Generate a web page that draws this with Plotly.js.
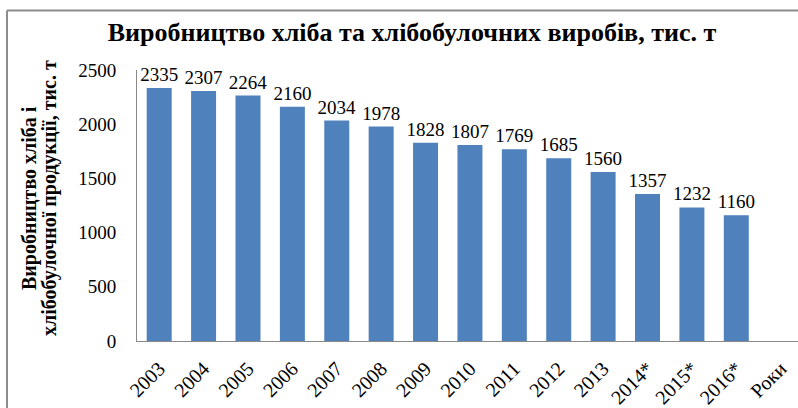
<!DOCTYPE html>
<html>
<head>
<meta charset="utf-8">
<script src="https://cdn.plot.ly/plotly-3.0.1.min.js"></script>
<style>html,body{margin:0;padding:0;background:#fff;}#chart{width:798px;height:408px;}</style>
</head>
<body>
<div id="chart"></div>
<script>
const categories = ["2003","2004","2005","2006","2007","2008","2009","2010","2011","2012","2013","2014*","2015*","2016*","Роки"];
const production = [2335,2307,2264,2160,2034,1978,1828,1807,1769,1685,1560,1357,1232,1160,null];
const yTickValues = [0,500,1000,1500,2000,2500];
const titleText = "Виробництво хліба та хлібобулочних виробів, тис. т";
const yTitleLine1 = "Виробництво хліба і";
const yTitleLine2 = "хлібобулочної продукції, тис. т";

const FONT = "'Liberation Serif','Times New Roman',serif";
const W = 798, H = 408;
const L = 137, R = 0, T = 70, B = 67;
const pw = W - L - R, ph = H - T - B;
const px = x => (x - L) / pw;
const py = y => (H - B - y) / ph;

const trace = {
  type: "bar",
  x: categories,
  y: production,
  text: production.map(v => v === null ? "" : String(v)),
  textposition: "outside",
  constraintext: "none",
  textfont: {family: FONT, size: 19, color: "#000"},
  cliponaxis: false,
  marker: {color: "#4F81BD", line: {width: 0}},
  hoverinfo: "x+y"
};

const layout = {
  width: W, height: H,
  margin: {l: L, r: R, t: T, b: B, pad: 0},
  paper_bgcolor: "#fff", plot_bgcolor: "#fff",
  showlegend: false,
  bargap: 0.437,
  font: {family: FONT, size: 19, color: "#000"},
  title: {
    text: "<b>" + titleText + "</b>",
    font: {family: FONT, size: 26, color: "#000"},
    xref: "container", yref: "container",
    x: 412 / W, xanchor: "center",
    y: 1 - 32 / H, yanchor: "middle"
  },
  xaxis: {
    type: "category",
    range: [-0.5, 14.39],
    tickangle: -45,
    ticks: "",
    ticklabelstandoff: 7,
    showgrid: false,
    zeroline: false,
    showline: true,
    linecolor: "#888",
    linewidth: 1,
    tickfont: {family: FONT, size: 20, color: "#000"},
    fixedrange: true
  },
  yaxis: {
    range: [0, 2500],
    tickvals: yTickValues,
    ticktext: yTickValues.map(String),
    ticks: "",
    ticklabelstandoff: 16,
    showgrid: false,
    zeroline: false,
    showline: true,
    linecolor: "#888",
    linewidth: 1,
    tickfont: {family: FONT, size: 19, color: "#000"},
    fixedrange: true
  },
  annotations: [
    {text: "<b>" + yTitleLine1 + "</b>", xref: "paper", yref: "paper", x: px(29), y: py(198),
     xanchor: "center", yanchor: "middle", textangle: -90, showarrow: false,
     font: {family: FONT, size: 20, color: "#000"}},
    {text: "<b>" + yTitleLine2 + "</b>", xref: "paper", yref: "paper", x: px(49), y: py(198),
     xanchor: "center", yanchor: "middle", textangle: -90, showarrow: false,
     font: {family: FONT, size: 20, color: "#000"}}
  ],
  shapes: [
    {type: "line", xref: "paper", yref: "paper", x0: px(7), y0: py(408), x1: px(7), y1: py(10.5),
     line: {color: "#8c8c8c", width: 2}},
    {type: "line", xref: "paper", yref: "paper", x0: px(7), y0: py(10.5), x1: px(798), y1: py(10.5),
     line: {color: "#8c8c8c", width: 2}}
  ]
};

Plotly.newPlot("chart", [trace], layout, {displayModeBar: false, staticPlot: true});
</script>
</body>
</html>
